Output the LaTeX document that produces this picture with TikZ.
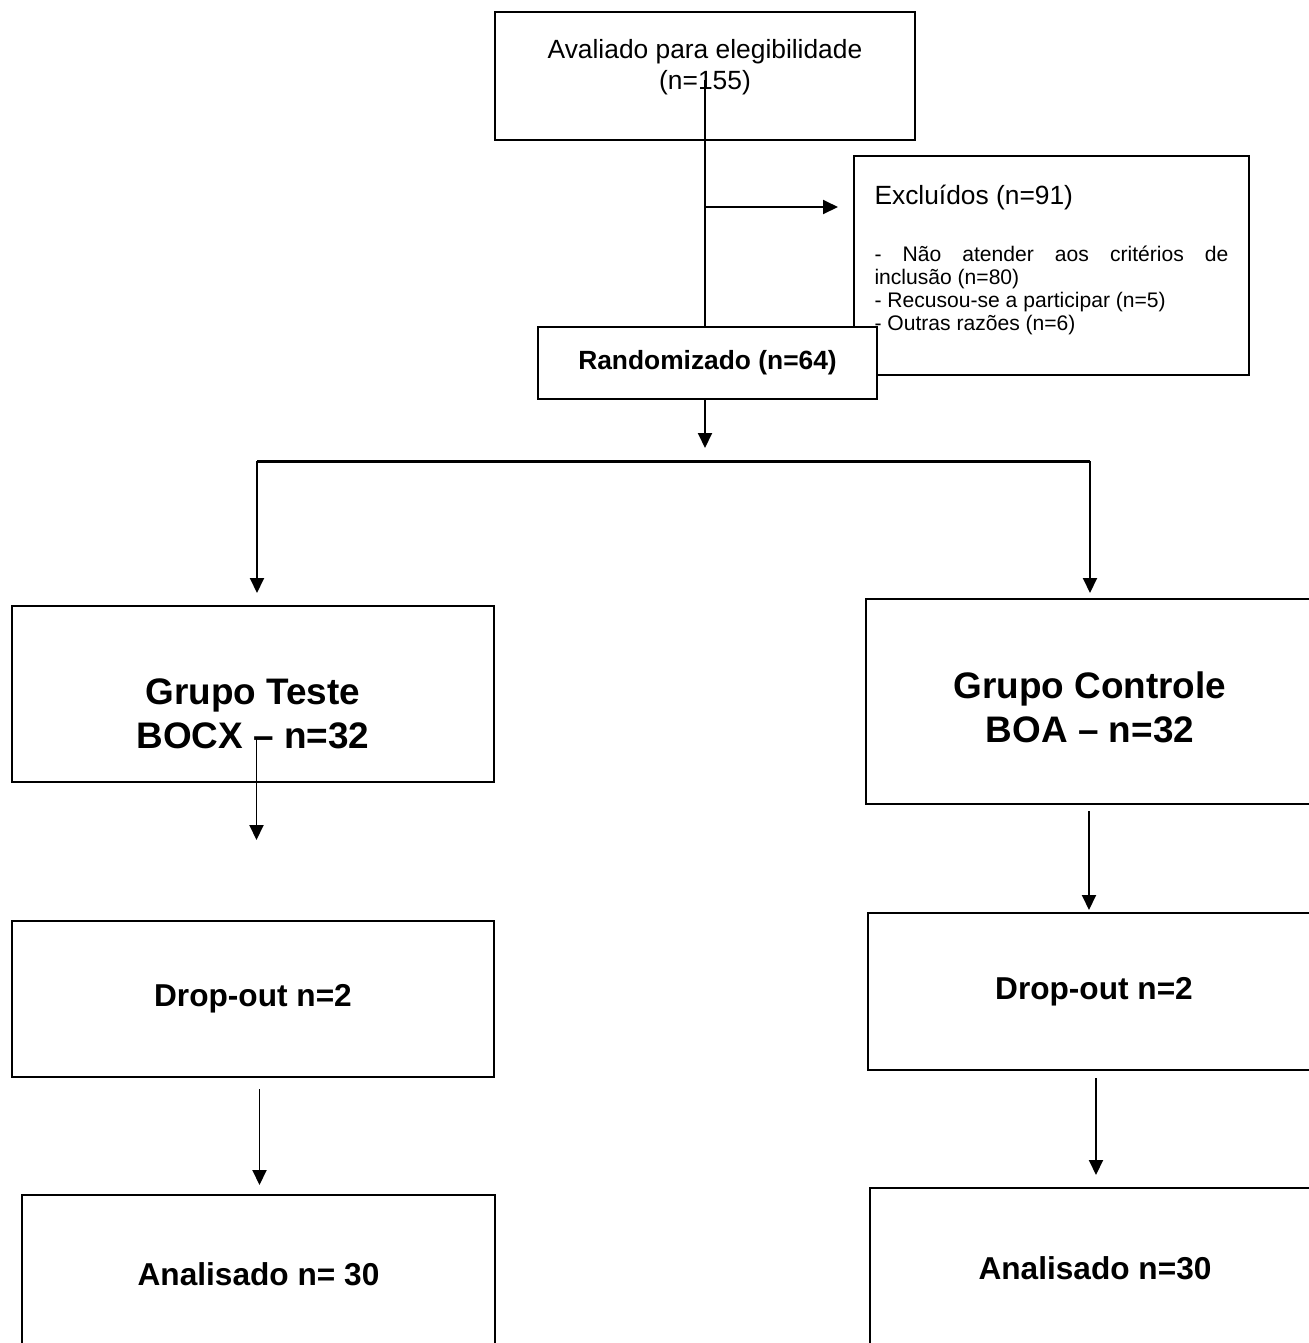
\documentclass[tikz,border=0pt]{standalone}
\usepackage{fontspec}
\setmainfont{Liberation Sans}
\usetikzlibrary{arrows.meta}

\tikzstyle{flowbox} = [rectangle, line width=1.2pt, draw=black, fill=white, align=center]
\tikzstyle{randbox} = [flowbox, font=\fontsize{15}{18}\selectfont\bfseries]
\tikzstyle{resultbox} = [flowbox, font=\fontsize{18}{21}\selectfont\bfseries]
\tikzstyle{toptext} = [align=center, font=\fontsize{15}{18}\selectfont]
\tikzstyle{grouptext} = [align=center, font=\fontsize{21}{25}\selectfont\bfseries]
\tikzstyle{listtext} = [text width=7.08cm, align=justify, font=\fontsize{12}{13.2}\selectfont]
\tikzstyle{arrow} = [line width=1.1pt,->,>={Triangle[length=0.3cm,width=0.28cm]}]
\tikzstyle{link} = [line width=1.1pt]

\begin{document}
\begin{tikzpicture}
        \clip (0,0) rectangle (26.18,-26.86);
        \fill [white] (0,0) rectangle (26.18,-26.86);

        \node (Avaliado) [flowbox, minimum width=8.4cm, minimum height=2.56cm] at (14.10,-1.52) {};
        \node (Avaliado Text) [toptext] at (14.10,-1.34) {Avaliado para elegibilidade\\(n=155)};
        \node (Excluidos) [flowbox, minimum width=7.9cm, minimum height=4.38cm] at (21.03,-5.31) {};
        \node (Excluidos Text) [listtext] at (21.03,-5.20) {{\fontsize{15}{18}\selectfont Excluídos (n=91)\par}\vspace{19pt}\hyphenpenalty=10000\tolerance=10000 - Não atender aos critérios de\linebreak inclusão (n=80)\\- Recusou-se a participar (n=5)\\- Outras razões (n=6)};

        \coordinate (Trunk Top) at (14.10,-1.6);
        \coordinate (Trunk Branch) at (14.10,-4.14);
        \coordinate (Excluidos Tip) at (16.76,-4.14);
        \draw [link] (Trunk Top) -- (14.10,-6.54);
        \draw [arrow] (Trunk Branch) -- (Excluidos Tip);

        \node (Randomizado) [randbox, minimum width=6.78cm, minimum height=1.44cm] at (14.15,-7.26) {Randomizado (n=64)};

        \node (Teste) [flowbox, minimum width=9.64cm, minimum height=3.52cm] at (5.06,-13.88) {};
        \node (Teste Text) [grouptext] at (5.06,-14.28) {Grupo Teste\\BOCX – n=32};
        \node (Controle) [flowbox, minimum width=9.08cm, minimum height=4.1cm] at (21.86,-14.03) {};
        \node (Controle Text) [grouptext] at (21.80,-14.15) {Grupo Controle\\BOA – n=32};
        \node (Dropout Teste) [resultbox, minimum width=9.64cm, minimum height=3.12cm] at (5.06,-19.98) {Drop-out n=2};
        \node (Dropout Controle) [resultbox, minimum width=9.04cm, minimum height=3.14cm] at (21.88,-19.83) {Drop-out n=2};
        \node (Analisado Teste) [resultbox, minimum width=9.46cm, minimum height=3.18cm] at (5.17,-25.49) {Analisado n= 30};
        \node (Analisado Controle) [resultbox, minimum width=9.0cm, minimum height=3.2cm] at (21.9,-25.36) {Analisado n=30};

        \coordinate (Randomizado Tip) at (14.10,-8.96);
        \coordinate (Fork Left) at (5.14,-9.22);
        \coordinate (Fork Right) at (21.80,-9.22);
        \coordinate (Teste Tip) at (5.14,-11.86);
        \coordinate (Controle Tip) at (21.80,-11.86);
        \coordinate (Teste Out) at (5.13,-14.78);
        \coordinate (Teste Down) at (5.13,-16.80);
        \coordinate (Controle Out) at (21.78,-16.22);
        \coordinate (Controle Down) at (21.78,-18.20);
        \coordinate (Dropout Teste Out) at (5.19,-21.78);
        \coordinate (Dropout Teste Down) at (5.19,-23.70);
        \coordinate (Dropout Controle Out) at (21.92,-21.56);
        \coordinate (Dropout Controle Down) at (21.92,-23.50);

        \draw [arrow] (Randomizado.south -| Randomizado Tip) -- (Randomizado Tip);
        \draw [link, line width=1.7pt] (Fork Left) -- (Fork Right);
        \draw [arrow] (Fork Left) -- (Teste Tip);
        \draw [arrow] (Fork Right) -- (Controle Tip);
        \draw [arrow] (Teste Out) -- (Teste Down);
        \draw [arrow] (Controle Out) -- (Controle Down);
        \draw [arrow] (Dropout Teste Out) -- (Dropout Teste Down);
        \draw [arrow] (Dropout Controle Out) -- (Dropout Controle Down);
\end{tikzpicture}
\end{document}
